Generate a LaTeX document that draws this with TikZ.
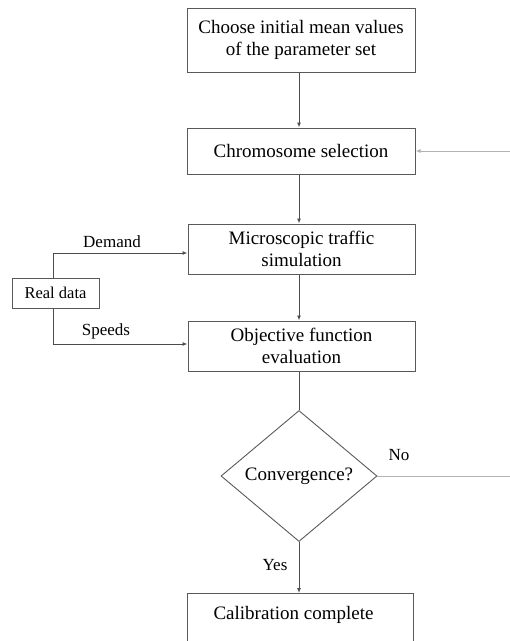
\documentclass[tikz,border=0pt]{standalone}
\usepackage{fontspec}
\setmainfont{Liberation Serif}
\usetikzlibrary{shapes.geometric,arrows.meta}
\definecolor{boxline}{gray}{0.35}
\definecolor{arrline}{gray}{0.3}
\definecolor{faint}{gray}{0.7}
\tikzset{
  stepbox/.style={draw=boxline, line width=1pt, rectangle, inner sep=0pt, align=center, font=\fontsize{19}{22}\selectfont},
  decide/.style={draw=boxline, line width=0.9pt, diamond, inner sep=0pt, font=\fontsize{19}{22}\selectfont},
  lbl/.style={font=\fontsize{17}{20}\selectfont, inner sep=0pt},
  conn/.style={draw=arrline, line width=1pt, -{Latex[length=5pt,width=4pt]}},
  plain/.style={draw=arrline, line width=1pt},
}
\begin{document}
\begin{tikzpicture}[x=1pt,y=-1pt]
\useasboundingbox (0,0) rectangle (510,641);
\clip (0,0) rectangle (510,641);
\node[stepbox, minimum width=228pt, minimum height=64pt] (init) at (301,40) {Choose initial mean values\\of the parameter set};
\node[stepbox, minimum width=228pt, minimum height=46pt] (chrom) at (301,151) {Chromosome selection};
\node[stepbox, minimum width=227pt, minimum height=50pt] (micro) at (301.5,249) {Microscopic traffic\\simulation};
\node[stepbox, minimum width=227pt, minimum height=50pt] (obj) at (301.5,346) {Objective function\\evaluation};
\node[stepbox, minimum width=87pt, minimum height=30pt, font=\fontsize{16.5}{20}\selectfont] (real) at (55.5,293) {Real data};
\node[decide, minimum width=156pt, minimum height=131pt, aspect=1.19] (conv) at (299,476) {Convergence?};
\node[stepbox, minimum width=226pt, minimum height=60pt, anchor=north] (done) at (300,593) {};
\node[font=\fontsize{19}{22}\selectfont, inner sep=0pt] (donetext) at (293.5,615) {Calibration complete};
\node[lbl] (demand) at (112,242) {Demand};
\node[lbl] (speeds) at (106,331) {Speeds};
\node[lbl] (no) at (399,455) {No};
\node[lbl] (yes) at (275,565) {Yes};
\coordinate (rt) at (513,476);
\draw[conn] (init.south -| 299,0) -- (chrom.north -| 299,0);
\draw[conn] (chrom.south -| 299,0) -- (micro.north -| 299,0);
\draw[conn] (micro.south -| 299,0) -- (obj.north -| 299,0);
\draw[plain] (obj.south -| 299,0) -- (conv.north);
\draw[conn] (conv.south) -- (done.north -| conv.south);
\draw[conn, draw=faint] (conv.east) -- (rt) |- (chrom.east);
\draw[conn] (real.north -| 53,0) |- (micro.west |- 0,253);
\draw[conn] (real.south -| 53,0) |- (obj.west |- 0,344);
\end{tikzpicture}
\end{document}
